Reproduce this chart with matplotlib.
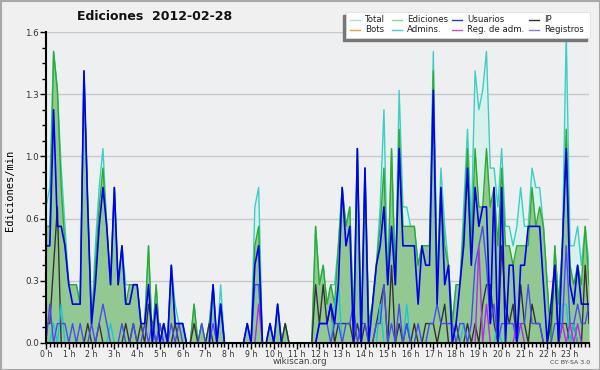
import matplotlib
matplotlib.use("Agg")
import matplotlib.pyplot as plt
import numpy as np
from matplotlib.patches import Rectangle
from matplotlib.ticker import FixedLocator, MultipleLocator, FormatStrFormatter

# edits per 10-minute slot, 144 slots (00:00 .. 23:50)
total = [7, 8, 15, 13, 9, 6, 3, 3, 3, 2, 14, 7,
         1, 5, 8, 10, 6, 3, 8, 3, 5, 3, 3, 3,
         3, 1, 1, 5, 0, 3, 0, 1, 0, 4, 2, 1,
         1, 0, 0, 2, 0, 1, 0, 1, 3, 0, 3, 0,
         0, 0, 0, 0, 0, 1, 0, 7, 8, 0, 0, 1,
         0, 2, 0, 1, 0, 0, 0, 0, 0, 0, 0, 6,
         3, 4, 2, 3, 3, 5, 8, 6, 7, 1, 10, 0,
         9, 1, 2, 4, 7, 12, 3, 10, 3, 13, 7, 7,
         6, 6, 4, 5, 5, 5, 15, 3, 9, 6, 4, 1,
         3, 3, 7, 11, 6, 14, 12, 13, 15, 9, 9, 7,
         10, 6, 6, 5, 6, 8, 6, 6, 9, 8, 8, 6,
         3, 0, 5, 2, 5, 16, 5, 5, 6, 4, 6, 4]
ediciones = [6, 6, 15, 13, 8, 5, 3, 3, 3, 2, 14, 7,
             1, 4, 7, 9, 6, 3, 8, 3, 5, 2, 3, 3,
             3, 1, 1, 5, 0, 3, 0, 1, 0, 4, 1, 1,
             1, 0, 0, 2, 0, 1, 0, 1, 3, 0, 2, 0,
             0, 0, 0, 0, 0, 1, 0, 5, 6, 0, 0, 1,
             0, 2, 0, 1, 0, 0, 0, 0, 0, 0, 0, 6,
             3, 4, 2, 3, 2, 5, 8, 6, 7, 1, 10, 0,
             9, 1, 2, 4, 6, 9, 3, 10, 3, 11, 6, 6,
             6, 6, 4, 5, 5, 5, 14, 3, 8, 5, 4, 1,
             3, 3, 6, 10, 5, 10, 7, 7, 10, 7, 8, 5,
             9, 5, 5, 4, 5, 5, 5, 5, 8, 6, 7, 6,
             3, 0, 5, 2, 5, 11, 4, 3, 4, 3, 6, 3]
usuarios = [5, 5, 12, 6, 6, 5, 3, 2, 2, 2, 14, 7,
            1, 3, 6, 8, 6, 3, 8, 3, 5, 2, 2, 3,
            3, 1, 1, 3, 0, 2, 0, 1, 0, 4, 1, 1,
            1, 0, 0, 0, 0, 0, 0, 0, 3, 0, 2, 0,
            0, 0, 0, 0, 0, 1, 0, 4, 5, 0, 0, 1,
            0, 2, 0, 0, 0, 0, 0, 0, 0, 0, 0, 0,
            1, 1, 1, 2, 1, 3, 8, 5, 6, 0, 10, 0,
            9, 0, 2, 4, 5, 7, 3, 6, 3, 10, 5, 5,
            5, 5, 2, 5, 4, 4, 13, 2, 8, 3, 4, 0,
            1, 3, 5, 9, 4, 8, 6, 7, 7, 1, 8, 0,
            8, 0, 4, 4, 0, 4, 4, 6, 6, 6, 6, 3,
            0, 2, 4, 0, 5, 10, 3, 2, 4, 2, 2, 2]
ip = [1, 1, 4, 7, 0, 0, 0, 0, 0, 0, 0, 1,
      0, 0, 1, 0, 0, 0, 0, 0, 0, 1, 0, 1,
      0, 1, 0, 2, 1, 0, 1, 0, 0, 0, 1, 0,
      0, 0, 0, 1, 0, 0, 0, 1, 0, 0, 0, 0,
      0, 0, 0, 0, 0, 0, 0, 0, 0, 0, 0, 0,
      0, 0, 0, 1, 0, 0, 0, 0, 0, 0, 0, 3,
      1, 3, 1, 2, 0, 1, 1, 1, 1, 0, 1, 0,
      1, 0, 0, 1, 2, 3, 0, 4, 0, 1, 0, 1,
      0, 1, 0, 0, 1, 1, 1, 0, 1, 2, 0, 0,
      1, 0, 0, 1, 0, 1, 0, 2, 3, 3, 1, 0,
      5, 2, 1, 2, 0, 3, 1, 0, 2, 1, 1, 0,
      0, 1, 4, 0, 1, 1, 0, 1, 0, 0, 4, 1]
admins = [0, 0, 1, 0, 2, 0, 0, 0, 0, 0, 0, 0,
          0, 0, 0, 0, 0, 1, 0, 0, 0, 0, 0, 0,
          0, 0, 0, 0, 0, 0, 0, 0, 0, 0, 0, 0,
          0, 0, 0, 0, 0, 0, 0, 0, 0, 0, 0, 0,
          0, 0, 0, 0, 0, 0, 0, 0, 0, 0, 0, 0,
          0, 0, 0, 0, 0, 0, 0, 0, 0, 0, 0, 0,
          0, 0, 0, 0, 2, 3, 0, 0, 0, 0, 0, 0,
          0, 0, 0, 0, 2, 0, 0, 0, 0, 0, 0, 2,
          0, 0, 0, 0, 0, 0, 0, 0, 0, 0, 0, 0,
          0, 0, 1, 0, 0, 0, 0, 0, 0, 0, 0, 1,
          0, 0, 0, 0, 0, 0, 0, 0, 0, 0, 0, 0,
          0, 0, 0, 0, 2, 2, 0, 1, 0, 0, 0, 0]
registros = [0, 2, 0, 1, 1, 1, 0, 1, 0, 1, 0, 0,
             1, 0, 1, 2, 1, 0, 0, 0, 1, 0, 0, 1,
             0, 0, 1, 0, 1, 0, 1, 0, 0, 1, 0, 1,
             0, 0, 0, 0, 0, 1, 0, 0, 1, 0, 2, 0,
             0, 0, 0, 0, 0, 0, 0, 3, 3, 0, 0, 0,
             0, 0, 0, 0, 0, 0, 0, 0, 0, 0, 0, 0,
             1, 1, 1, 0, 1, 1, 0, 1, 1, 2, 0, 1,
             1, 0, 0, 1, 1, 3, 0, 1, 0, 2, 0, 1,
             0, 0, 1, 0, 0, 1, 1, 2, 1, 1, 1, 1,
             0, 1, 1, 0, 1, 4, 5, 6, 4, 1, 2, 0,
             1, 1, 1, 1, 0, 1, 1, 3, 1, 1, 1, 0,
             0, 0, 1, 1, 1, 5, 1, 1, 2, 1, 1, 2]
reg_adm = [0, 0, 0, 0, 0, 0, 0, 0, 0, 0, 0, 0,
           0, 0, 0, 0, 0, 0, 0, 0, 0, 0, 0, 0,
           0, 0, 0, 0, 0, 0, 0, 0, 0, 0, 0, 0,
           0, 0, 0, 0, 0, 0, 0, 0, 0, 0, 0, 0,
           0, 0, 0, 0, 0, 0, 0, 0, 2, 0, 0, 0,
           0, 0, 0, 0, 0, 0, 0, 0, 0, 0, 0, 0,
           0, 0, 0, 0, 0, 0, 0, 0, 0, 0, 0, 0,
           0, 0, 0, 0, 0, 0, 0, 0, 0, 0, 0, 0,
           0, 0, 0, 0, 0, 0, 0, 0, 0, 0, 0, 0,
           0, 0, 0, 0, 0, 0, 5, 0, 2, 0, 0, 0,
           0, 0, 0, 0, 1, 1, 0, 0, 0, 0, 0, 0,
           0, 0, 0, 0, 1, 0, 1, 0, 1, 0, 0, 0]

hour_labels = [f"{h} h" for h in range(24)]
legend_names = ["Total", "Ediciones", "Usuarios", "IP",
                "Bots", "Admins.", "Reg. de adm.", "Registros"]
legend_colors = ["#a8e6df", "#8fd48f", "#3434e0", "#333333",
                 "#f0a040", "#40d0d8", "#d050e0", "#8080f0"]

slots = np.arange(len(total))
per_min = lambda s: np.array(s) / 10.0

fig = plt.figure(figsize=(6, 3.7), dpi=100, facecolor="#f0f0f0")
ax = fig.add_axes([46 / 600, 27 / 370, 543 / 600, 311 / 370])
ax.set_facecolor("#eeeff1")

# filled areas
ax.fill_between(slots, per_min(total), color="#d9f1ec", lw=0)
ax.fill_between(slots, per_min(ediciones), color="#92c992", lw=0)
ax.plot(slots, per_min(total), color="#3ccfc4", lw=1)
ax.plot(slots, per_min(ediciones), color="#2eaa2e", lw=1)
ax.plot(slots, per_min(ip), color="#333333", lw=1)
ax.plot(slots, per_min(admins), color="#22c4d4", lw=1)
ax.plot(slots, per_min(registros), color="#4a4af2", lw=1)
ax.plot(slots, per_min(reg_adm), color="#b030e0", lw=1)
ax.plot(slots, per_min(usuarios), color="#0000ee", lw=1.2)

ax.set_xlim(0, 143)
ax.set_ylim(0, 1.6)
ax.yaxis.set_major_locator(FixedLocator([0, 0.32, 0.64, 0.96, 1.28, 1.6]))
ax.yaxis.set_major_formatter(FormatStrFormatter("%.1f"))
ax.yaxis.set_minor_locator(MultipleLocator(0.08))
ax.set_xticks(np.arange(0, 144, 6))
ax.set_xticklabels(hour_labels)
ax.xaxis.set_minor_locator(MultipleLocator(1))
ax.tick_params(axis="both", which="major", length=4, width=1, labelsize=6.3,
               colors="#000000", labelcolor="#333333", pad=1)
ax.tick_params(axis="x", which="major", labelsize=5.6)
ax.tick_params(axis="both", which="minor", length=3, width=1)
ax.grid(axis="y", color="#c8c8c8", lw=1)
ax.set_axisbelow(True)
for s in ["top", "right"]:
    ax.spines[s].set_visible(False)
for s in ["left", "bottom"]:
    ax.spines[s].set_linewidth(1.5)

# overlay in pixel coordinates for texts, legend and frame
ov = fig.add_axes([0, 0, 1, 1], facecolor="none")
ov.set_xlim(0, 600)
ov.set_ylim(370, 0)
ov.axis("off")
ov.add_patch(Rectangle((0.5, 0.5), 599, 369, fill=False, ec="#a8a8a8", lw=1.5))
ov.text(155, 17, "Ediciones  2012-02-28", fontsize=9, fontweight="bold",
        ha="center", va="center", color="#111111")
ov.text(10, 190, "Ediciones/min", rotation=90, fontsize=7.5,
        family="DejaVu Sans Mono", ha="center", va="center")
ov.text(300, 362, "wikiscan.org", fontsize=6.3, ha="center", va="center",
        color="#444444")
ov.text(590, 362, "CC BY-SA 3.0", fontsize=4.5, ha="right", va="center",
        color="#444444")

# legend box with shadow to the lower left
ov.add_patch(Rectangle((343, 15), 244, 26, color="#777777", zorder=3))
ov.add_patch(Rectangle((346, 12), 244, 26, fc="white", ec="#dddddd", lw=0.5, zorder=4))
col_x = [350, 392, 452, 529]
row_y = [19.5, 29.5]
for k, (name, c) in enumerate(zip(legend_names, legend_colors)):
    x0 = col_x[k % 4]
    y0 = row_y[k // 4]
    ov.plot([x0, x0 + 10], [y0, y0], color=c, lw=1, zorder=5)
    ov.text(x0 + 15, y0, name, fontsize=6.2, ha="left", va="center",
            color="#222222", zorder=5)

fig.savefig("out.png", dpi=100, facecolor=fig.get_facecolor())
